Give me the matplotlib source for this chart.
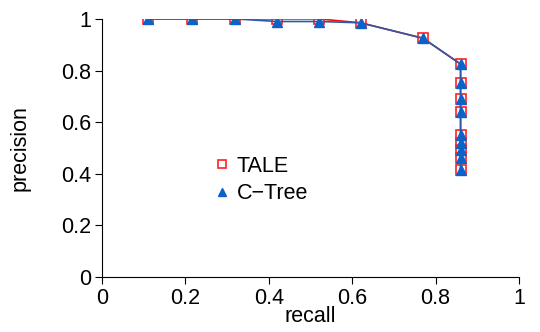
import numpy as np
from matplotlib import pyplot as plt
from matplotlib.lines import Line2D

plt.rcParams['font.family'] = ['Liberation Sans', 'DejaVu Sans']

recall = [0.11, 0.215, 0.32, 0.42, 0.52, 0.62, 0.77, 0.86, 0.86, 0.86, 0.86, 0.86, 0.86, 0.86, 0.86, 0.86]
tale = [1.0, 1.0, 1.0, 1.0, 1.0, 0.985, 0.925, 0.825, 0.75, 0.69, 0.64, 0.55, 0.52, 0.49, 0.46, 0.415]
ctree = [1.0, 1.0, 1.0, 0.99, 0.99, 0.985, 0.925, 0.825, 0.75, 0.69, 0.64, 0.55, 0.52, 0.49, 0.46, 0.415]

fig = plt.figure(figsize=(5.4, 3.32), dpi=100)
ax = fig.add_axes([0.189, 0.166, 0.772, 0.777])

ax.plot(recall, tale, color="#ee1111", lw=1.2, marker="s", ms=6.5, mfc="none", mec="#ff2020", mew=1.2, label="TALE")
ax.plot(recall, ctree, color="#2c5aa8", lw=1.2, marker="^", ms=6.5, mfc="#0b63c9", mec="#0b63c9", label="C\u2212Tree")

ax.set_xlim(0, 1)
ax.set_ylim(0, 1)
ax.set_xticks([0, 0.2, 0.4, 0.6, 0.8, 1])
ax.set_xticklabels(["0", "0.2", "0.4", "0.6", "0.8", "1"])
ax.set_yticks([0, 0.2, 0.4, 0.6, 0.8, 1])
ax.set_yticklabels(["0", "0.2", "0.4", "0.6", "0.8", "1"])
ax.tick_params(labelsize=15.5, length=5, width=0.8, direction="out", pad=3)
ax.spines["top"].set_visible(False)
ax.spines["right"].set_visible(False)
ax.set_xlabel("recall", fontsize=15.5, labelpad=-2)
ax.set_ylabel("precision", fontsize=15.5, labelpad=22)

handles = [Line2D([], [], ls="none", marker="s", ms=5.5, mfc="none", mec="#ff2020", mew=1.2),
           Line2D([], [], ls="none", marker="^", ms=5.5, mfc="#0b63c9", mec="#0b63c9")]
ax.legend(handles, ["TALE", "C\u2212Tree"], loc="upper left", bbox_to_anchor=(0.22, 0.545), frameon=False,
          fontsize=15.5, handlelength=0.8, handletextpad=0.3, labelspacing=0.3)

plt.savefig("out.png", dpi=100)
